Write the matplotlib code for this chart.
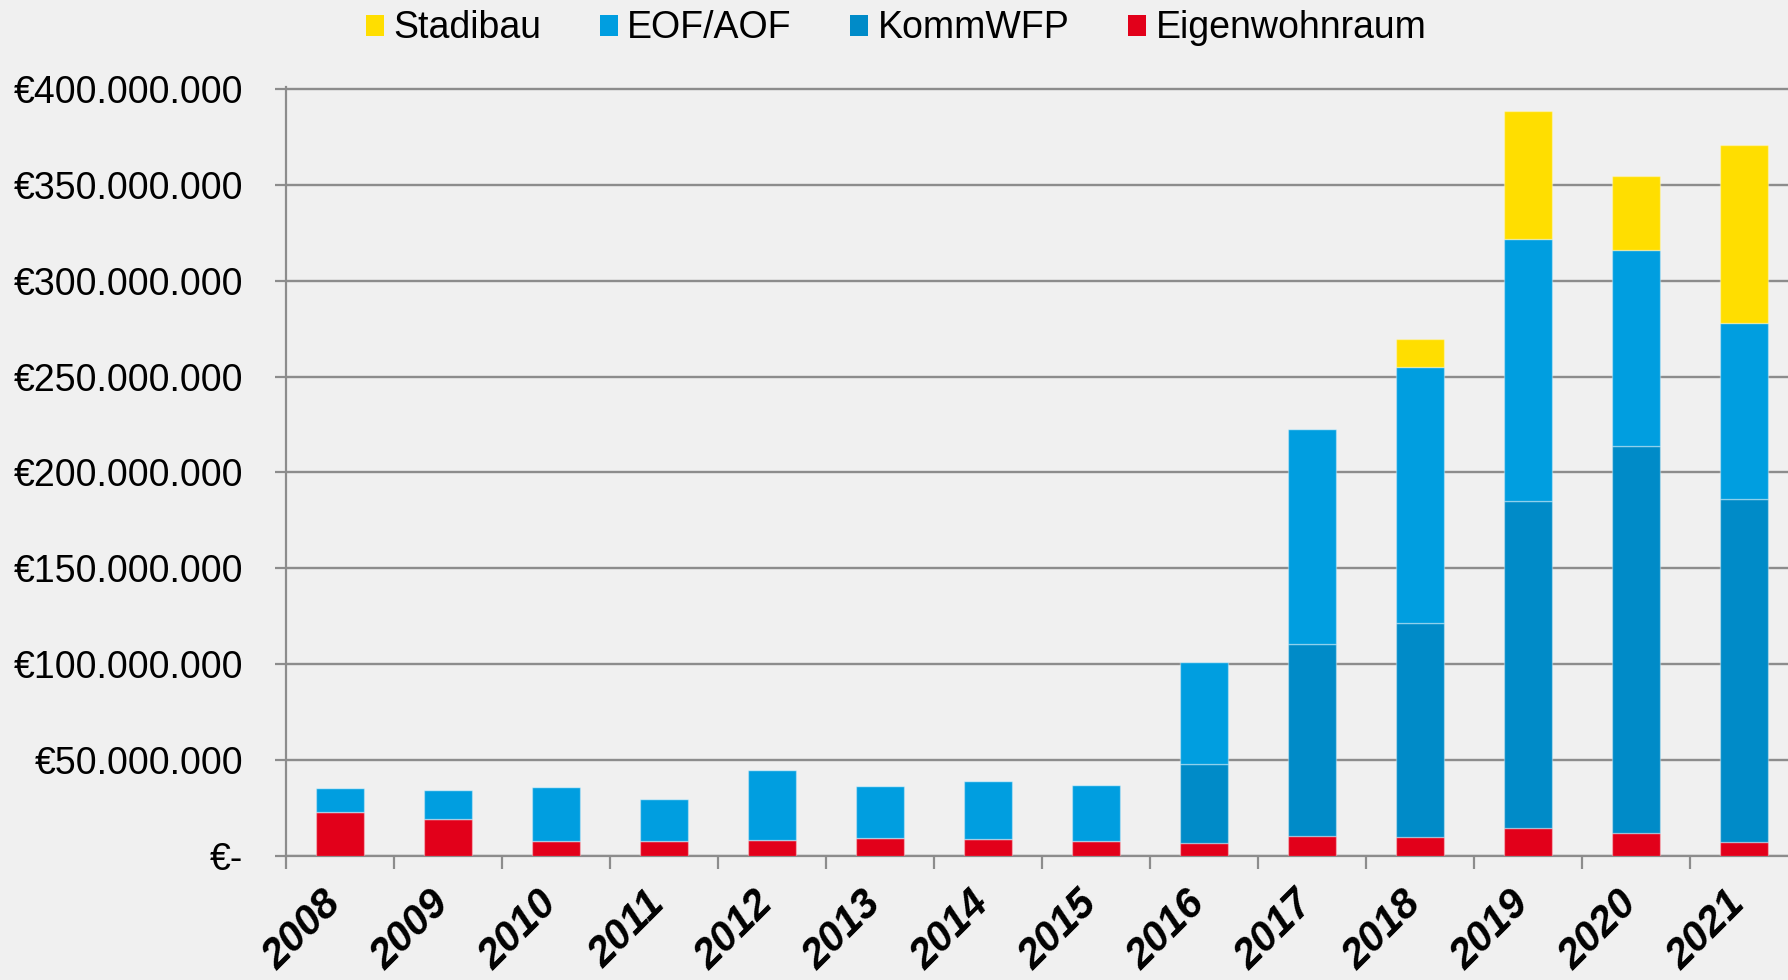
import matplotlib
matplotlib.use('Agg')
import matplotlib.pyplot as plt
import matplotlib.transforms as mtransforms
from matplotlib.patches import Patch
import numpy as np

# --- Daten (Mio. €) ---
jahre = ['2008', '2009', '2010', '2011', '2012', '2013', '2014',
         '2015', '2016', '2017', '2018', '2019', '2020', '2021']
eigenwohnraum = [23.0, 19.3, 7.5, 7.5, 8.4, 9.2, 8.5, 7.7, 6.6, 10.4, 9.8, 14.5, 11.7, 7.2]
kommwfp = [0, 0, 0, 0, 0, 0, 0, 0, 41.4, 100.1, 111.7, 170.8, 202.3, 178.9]
eof_aof = [12.5, 14.8, 28.6, 21.9, 36.2, 27.2, 30.7, 29.2, 53.0, 111.9, 133.7, 136.5, 102.1, 92.0]
stadibau = [0, 0, 0, 0, 0, 0, 0, 0, 0, 0, 14.2, 66.8, 38.7, 92.5]

y_ticks = [0, 50e6, 100e6, 150e6, 200e6, 250e6, 300e6, 350e6, 400e6]
y_labels = ['€-', '€50.000.000', '€100.000.000', '€150.000.000', '€200.000.000',
            '€250.000.000', '€300.000.000', '€350.000.000', '€400.000.000']

farben = {
    'Stadibau': '#FFDE00',
    'EOF/AOF': '#009EE0',
    'KommWFP': '#008BC8',
    'Eigenwohnraum': '#E2001A',
}

plt.rcParams['font.family'] = ['Liberation Sans', 'DejaVu Sans']
bg = '#F0F0F0'
grau = '#8C8C8C'

fig = plt.figure(figsize=(17.88, 9.8), dpi=100, facecolor=bg)
ax = fig.add_axes([286 / 1788, 124.3 / 980, 1512 / 1788, 768.6 / 980])
ax.set_facecolor(bg)

x = np.arange(len(jahre))
mio = 1e6
ew = np.array(eigenwohnraum) * mio
kw = np.array(kommwfp) * mio
eo = np.array(eof_aof) * mio
st = np.array(stadibau) * mio

breite = 0.444
kante = dict(edgecolor=(1, 1, 1, 0.35), linewidth=1)
ax.bar(x, ew, breite, color=farben['Eigenwohnraum'], zorder=3, **kante)
ax.bar(x, kw, breite, bottom=ew, color=farben['KommWFP'], zorder=3, **kante)
ax.bar(x, eo, breite, bottom=ew + kw, color=farben['EOF/AOF'], zorder=3, **kante)
ax.bar(x, st, breite, bottom=ew + kw + eo, color=farben['Stadibau'], zorder=3, **kante)

ax.set_xlim(-0.5, len(jahre) - 0.5)
ax.set_ylim(0, 401e6)

# y-Achse
ax.set_yticks(y_ticks)
ax.set_yticklabels(y_labels, fontsize=27)
ax.tick_params(axis='y', length=8, width=1.6, color=grau, pad=23)
ax.yaxis.grid(True, color=grau, linewidth=1.7, zorder=0)
ax.set_axisbelow(True)

# x-Achse: Striche an den Grenzen, Beschriftung in der Mitte
ax.set_xticks(np.arange(len(jahre)) - 0.5)
ax.set_xticklabels([])
ax.tick_params(axis='x', which='major', length=9, width=1.6, color=grau)
ax.set_xticks(x, minor=True)
ax.set_xticklabels(jahre, minor=True, fontsize=30, fontweight='bold',
                   fontstyle='italic', rotation=45, ha='right')
ax.tick_params(axis='x', which='minor', length=0, pad=20)
versatz = mtransforms.ScaledTranslation(9 / 100, 0, fig.dpi_scale_trans)
for lbl in ax.get_xticklabels(minor=True):
    lbl.set_transform(lbl.get_transform() + versatz)

for s in ['top', 'right']:
    ax.spines[s].set_visible(False)
for s in ['left', 'bottom']:
    ax.spines[s].set_color(grau)
    ax.spines[s].set_linewidth(1.6)

# Legende oben
namen = ['Stadibau', 'EOF/AOF', 'KommWFP', 'Eigenwohnraum']
handles = [Patch(facecolor=farben[n], edgecolor='none') for n in namen]
fig.legend(handles, namen, loc='center left', bbox_to_anchor=(366 / 1788, 0.971),
           ncol=4, frameon=False, fontsize=27, borderpad=0, borderaxespad=0,
           handlelength=0.48, handleheight=0.48, handletextpad=0.25,
           columnspacing=1.56)

fig.savefig('out.png', dpi=100, facecolor=bg)
